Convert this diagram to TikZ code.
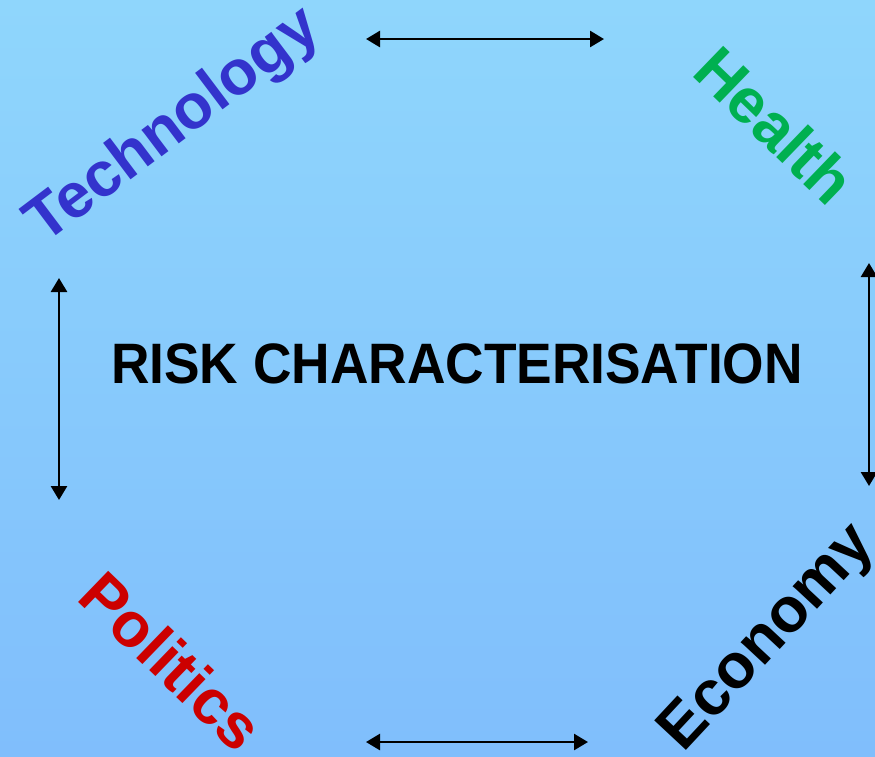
\documentclass[tikz,border=0pt]{standalone}
\usepackage{fontspec}
\setmainfont{Liberation Sans}
\usetikzlibrary{arrows.meta}

\definecolor{bgtop}{RGB}{143,214,252}
\definecolor{bgbot}{RGB}{128,190,252}
\definecolor{techblue}{RGB}{51,51,204}
\definecolor{healthgreen}{RGB}{0,176,80}
\definecolor{polred}{RGB}{204,0,0}

\begin{document}
\begin{tikzpicture}[x=1pt,y=-1pt]
    \tikzstyle{every node}+=[inner sep=0pt]
    \tikzstyle{word}=[font=\fontsize{63}{75}\selectfont\bfseries]
    \tikzstyle{link}=[black,line width=2.6pt,{Triangle[length=14pt,width=16pt]}-{Triangle[length=14pt,width=16pt]}]
    % background
    \shade [top color=bgtop,bottom color=bgbot] (0,0) rectangle (875,756);
    \useasboundingbox (0,0) rectangle (875,756);
    % labels
    \node (risk) at (457,364) {\fontsize{57}{68}\selectfont\bfseries\scalebox{0.935}[1]{RISK CHARACTERISATION}};
    \node [word,text=techblue,rotate=37] (tech) at (174,127) {Technology};
    \node [word,text=healthgreen,rotate=-44] (health) at (775,125) {Health};
    \node [word,text=polred,rotate=-44] (pol) at (172,661) {Politics};
    \node [word,text=black,rotate=47] (econ) at (769,639) {Economy};
    % arrow ends
    \coordinate (t1) at (366,39);
    \coordinate (t2) at (604,39);
    \coordinate (b1) at (366,742);
    \coordinate (b2) at (588,742);
    \coordinate (l1) at (59,278);
    \coordinate (l2) at (59,500);
    \coordinate (r1) at (869,263);
    \coordinate (r2) at (869,486);
    \draw [link] (t1) -- (t2);
    \draw [link] (b1) -- (b2);
    \draw [link] (l1) -- (l2);
    \draw [link] (r1) -- (r2);
\end{tikzpicture}
\end{document}
